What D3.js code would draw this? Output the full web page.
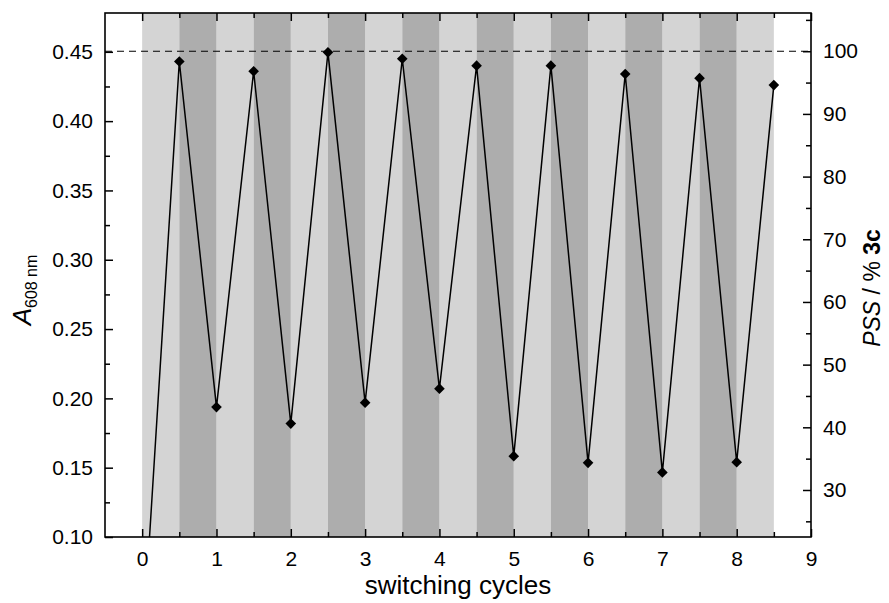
<!DOCTYPE html>
<html>
<head>
<meta charset="utf-8">
<script src="https://cdn.jsdelivr.net/npm/d3@7"></script>
<style>
  body { margin: 0; background: #fff; }
  text { font-family: "Liberation Sans", Arial, sans-serif; fill: #000; }
</style>
</head>
<body>
<div id="chart"></div>
<script>
// measured points: half cycles, absorbance at 608 nm
const cycles = [0, 0.5, 1, 1.5, 2, 2.5, 3, 3.5, 4, 4.5, 5, 5.5, 6, 6.5, 7, 7.5, 8, 8.5];
const absorbance = [0.015, 0.443, 0.1937, 0.436, 0.1818, 0.4496, 0.1969, 0.445, 0.207, 0.440,
                    0.1583, 0.440, 0.1535, 0.434, 0.1466, 0.431, 0.154, 0.426];

// irradiation bands (start of each half cycle)
const lightBands = [0, 1, 2, 3, 4, 5, 6, 7, 8];
const darkBands = [0.5, 1.5, 2.5, 3.5, 4.5, 5.5, 6.5, 7.5];
const bandWidth = 0.5;

// axis ticks
const xTicks = [0, 1, 2, 3, 4, 5, 6, 7, 8, 9];
const xMinor = [0.5, 1.5, 2.5, 3.5, 4.5, 5.5, 6.5, 7.5, 8.5];
const yTicks = [0.10, 0.15, 0.20, 0.25, 0.30, 0.35, 0.40, 0.45];
const yMinor = [0.125, 0.175, 0.225, 0.275, 0.325, 0.375, 0.425];
const pssTicks = [30, 40, 50, 60, 70, 80, 90, 100];
const pssMinor = [25, 35, 45, 55, 65, 75, 85, 95, 105];
const pssRef = 100;

const width = 889, height = 603;
const margin = { top: 13, right: 78, bottom: 66, left: 105 };
const w = width - margin.left - margin.right;
const h = height - margin.top - margin.bottom;

const svg = d3.select("#chart").append("svg")
    .attr("width", width)
    .attr("height", height);

const g = svg.append("g")
    .attr("transform", `translate(${margin.left},${margin.top})`);

const x = d3.scaleLinear().domain([-0.5, 9]).range([0, w]);
const y = d3.scaleLinear().domain([0.10, 0.478]).range([h, 0]);
const y2 = d3.scaleLinear().domain([22.5, 106.1]).range([h, 0]);

svg.append("defs").append("clipPath").attr("id", "clip")
  .append("rect").attr("width", w).attr("height", h);

// shaded bands
g.selectAll(".light")
    .data(lightBands)
    .enter()
    .append("rect")
    .attr("x", d => x(d))
    .attr("width", d => x(d + bandWidth) - x(d))
    .attr("y", 0)
    .attr("height", h)
    .style("fill", "#d4d4d4");

g.selectAll(".dark")
    .data(darkBands)
    .enter()
    .append("rect")
    .attr("x", d => x(d))
    .attr("width", d => x(d + bandWidth) - x(d))
    .attr("y", 0)
    .attr("height", h)
    .style("fill", "#adadad");

// 100 % reference line
g.append("line")
    .attr("x1", 0).attr("x2", w)
    .attr("y1", y2(pssRef)).attr("y2", y2(pssRef))
    .style("stroke", "#000")
    .style("stroke-width", 1.2)
    .style("stroke-dasharray", "7,5");

const pts = cycles.map((c, i) => ({ c, a: absorbance[i] }));

const plot = g.append("g").attr("clip-path", "url(#clip)");

plot.append("path")
    .datum(pts)
    .attr("d", d3.line().x(d => x(d.c)).y(d => y(d.a)))
    .style("fill", "none")
    .style("stroke", "#000")
    .style("stroke-width", 1.5);

plot.selectAll(".pt")
    .data(pts)
    .enter()
    .append("path")
    .attr("transform", d => `translate(${x(d.c)},${y(d.a)})`)
    .attr("d", d3.symbol().type(d3.symbolDiamond2).size(72))
    .style("fill", "#000");

// axes, ticks pointing inward
const major = 8, minor = 5;
function styleAxis(sel) {
    sel.select(".domain").remove();
    sel.selectAll("line").style("stroke", "#000").style("stroke-width", 1.5);
    sel.selectAll("text").style("font-size", "21px");
}

g.append("g")
    .attr("transform", `translate(0,${h})`)
    .call(d3.axisBottom(x).tickValues(xTicks).tickSize(-major).tickPadding(14).tickFormat(d3.format("d")))
    .call(styleAxis);
g.append("g")
    .attr("transform", `translate(0,${h})`)
    .call(d3.axisBottom(x).tickValues(xMinor).tickSize(-minor).tickFormat(""))
    .call(styleAxis);
g.append("g")
    .call(d3.axisTop(x).tickValues(xTicks).tickSize(-major).tickFormat(""))
    .call(styleAxis);
g.append("g")
    .call(d3.axisTop(x).tickValues(xMinor).tickSize(-minor).tickFormat(""))
    .call(styleAxis);

g.append("g")
    .call(d3.axisLeft(y).tickValues(yTicks).tickSize(-major).tickPadding(12).tickFormat(d3.format(".2f")))
    .call(styleAxis);
g.append("g")
    .call(d3.axisLeft(y).tickValues(yMinor).tickSize(-minor).tickFormat(""))
    .call(styleAxis);

g.append("g")
    .attr("transform", `translate(${w},0)`)
    .call(d3.axisRight(y2).tickValues(pssTicks).tickSize(-major).tickPadding(12).tickFormat(d3.format("d")))
    .call(styleAxis);
g.append("g")
    .attr("transform", `translate(${w},0)`)
    .call(d3.axisRight(y2).tickValues(pssMinor).tickSize(-minor).tickFormat(""))
    .call(styleAxis);

// frame
g.append("rect")
    .attr("width", w).attr("height", h)
    .style("fill", "none")
    .style("stroke", "#000")
    .style("stroke-width", 1.6);

// axis titles
svg.append("text")
    .attr("x", margin.left + w / 2)
    .attr("y", 594)
    .attr("text-anchor", "middle")
    .style("font-size", "26px")
    .text("switching cycles");

const yl = svg.append("text")
    .attr("transform", "translate(31,290) rotate(-90)")
    .attr("text-anchor", "middle");
yl.append("tspan").style("font-style", "italic").style("font-size", "26px").text("A");
yl.append("tspan").attr("dy", 6).style("font-size", "16px").text("608 nm");

const yr = svg.append("text")
    .attr("transform", "translate(880,288) rotate(-90)")
    .attr("text-anchor", "middle")
    .style("font-size", "23px");
yr.append("tspan").style("font-style", "italic").text("PSS");
yr.append("tspan").text(" / % ");
yr.append("tspan").style("font-weight", "bold").text("3c");
</script>
</body>
</html>
